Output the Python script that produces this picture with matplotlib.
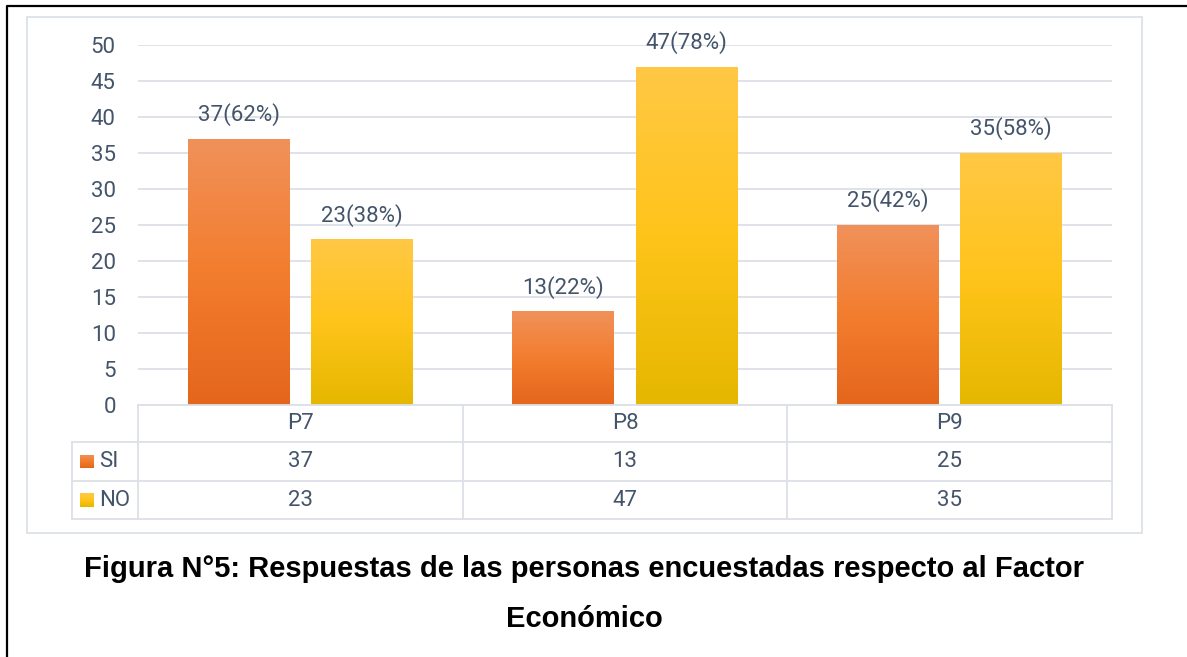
import matplotlib
matplotlib.use('Agg')
import matplotlib.pyplot as plt
from matplotlib.colors import LinearSegmentedColormap
from matplotlib.lines import Line2D
from matplotlib.patches import Rectangle
import numpy as np

# Datos
categorias = ['P7', 'P8', 'P9']
si = [37, 13, 25]
no = [23, 47, 35]
series = ['SI', 'NO']
yticks = [0, 5, 10, 15, 20, 25, 30, 35, 40, 45, 50]
titulo = 'Figura N°5: Respuestas de las personas encuestadas respecto al Factor\nEconómico'

W, H = 1187, 657
def fx(px):
    return px / W
def fy(py):
    return 1 - py / H

txt_color = '#44546A'
grid_color = '#DCE0E7'
fuente = 'Roboto'
peso = 'normal'

# degradados tipo Office (abajo, medio, arriba)
cmap_si = LinearSegmentedColormap.from_list('si', ['#E4661C', '#F37D2E', '#F0915A'])
cmap_no = LinearSegmentedColormap.from_list('no', ['#E5B700', '#FFC41A', '#FFC845'])

fig = plt.figure(figsize=(W / 100, H / 100), dpi=100)
fig.patch.set_facecolor('white')

# marco negro del documento
fig.add_artist(Line2D([fx(7), fx(7), fx(W)], [fy(H), fy(6), fy(6)],
                      color='black', lw=1.6, transform=fig.transFigure))
# borde del area del grafico
fig.add_artist(Rectangle((fx(27), fy(533)), fx(1142) - fx(27), fy(17) - fy(533),
                         transform=fig.transFigure, fill=False,
                         edgecolor='#D9DEE6', lw=1.2))

ax = fig.add_axes([fx(138), fy(405), fx(1112) - fx(138), fy(45) - fy(405)])
x = np.arange(len(categorias))
ancho = 0.314
desp = 0.19

total = [a + b for a, b in zip(si, no)]
for vals, off, cm in [(si, -desp, cmap_si), (no, desp, cmap_no)]:
    barras = ax.bar(x + off, vals, ancho, color=cm(0.5), zorder=2)
    grad = np.linspace(0, 1, 256).reshape(-1, 1)
    for b, v, t in zip(barras, vals, total):
        x0 = b.get_x()
        im = ax.imshow(grad, extent=[x0, x0 + b.get_width(), 0, v], origin='lower',
                       cmap=cm, aspect='auto', zorder=3)
        im.set_clip_path(b)
        ax.annotate(f'{v}({round(100 * v / t)}%)', (x0 + b.get_width() / 2, v),
                    xytext=(0, 9), textcoords='offset points', ha='center', va='bottom',
                    fontsize=16, color=txt_color, family=fuente, fontweight=peso,
                    annotation_clip=False)

ax.set_xlim(-0.5, len(categorias) - 0.5)
ax.set_ylim(0, 50)
ax.set_yticks(yticks)
ax.set_yticklabels([str(t) for t in yticks], fontsize=16, color=txt_color,
                   family=fuente, fontweight=peso)
ax.tick_params(axis='y', length=0, pad=16)
ax.set_xticks([])
ax.yaxis.grid(True, color=grid_color, lw=1.3, zorder=0)
ax.set_axisbelow(True)
for s in ax.spines.values():
    s.set_visible(False)

# tabla de datos
def hline(py, x0, x1):
    fig.add_artist(Line2D([fx(x0), fx(x1)], [fy(py), fy(py)], color=grid_color, lw=1.3,
                          transform=fig.transFigure))
def vline(px, y0, y1):
    fig.add_artist(Line2D([fx(px), fx(px)], [fy(y0), fy(y1)], color=grid_color, lw=1.3,
                          transform=fig.transFigure))

filas = [405, 442, 481, 519]
hline(filas[0], 138, 1112)
for py in filas[1:]:
    hline(py, 72, 1112)
vline(72, filas[1], filas[3])
colw = (1112 - 138) / len(categorias)
for i in range(len(categorias) + 1):
    vline(138 + i * colw, filas[0], filas[3])

for i, c in enumerate(categorias):
    cx = fx(138 + (i + 0.5) * colw)
    fig.text(cx, fy((filas[0] + filas[1]) / 2), c, ha='center', va='center',
             fontsize=16, color=txt_color, family=fuente, fontweight=peso)
    for j, vals in enumerate([si, no]):
        fig.text(cx, fy((filas[j + 1] + filas[j + 2]) / 2), str(vals[i]),
                 ha='center', va='center', fontsize=16, color=txt_color,
                 family=fuente, fontweight=peso)

for j, (nombre, cm) in enumerate(zip(series, [cmap_si, cmap_no])):
    cy = (filas[j + 1] + filas[j + 2]) / 2
    lax = fig.add_axes([fx(80), fy(cy + 7), fx(94) - fx(80), fy(cy - 7) - fy(cy + 7)])
    lax.imshow(np.linspace(0, 1, 64).reshape(-1, 1), origin='lower', cmap=cm, aspect='auto')
    lax.axis('off')
    fig.text(fx(99), fy(cy), nombre, ha='left', va='center', fontsize=16,
             color=txt_color, family=fuente, fontweight=peso)

fig.text(fx(584), fy(594), titulo, ha='center', va='center', fontsize=21,
         fontweight='bold', family='Liberation Sans', color='black', linespacing=2.0)

fig.savefig('out.png', dpi=100)
